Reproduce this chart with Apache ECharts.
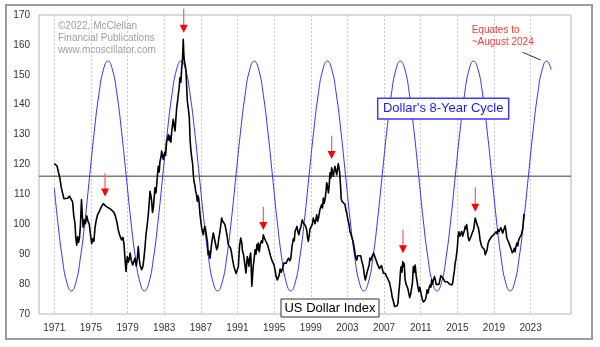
<!DOCTYPE html>
<html><head><meta charset="utf-8">
<script src="https://cdn.jsdelivr.net/npm/echarts@6/dist/echarts.min.js"></script>
<style>html,body{margin:0;padding:0;background:#fff}#c{width:600px;height:347px}</style>
</head><body><div id="c"></div>
<script>
const tickYears = [1971,1975,1979,1983,1987,1991,1995,1999,2003,2007,2011,2015,2019,2023];
const xMin = 1969.33, xMax = 2027.41;
const yMin = 70, yMax = 170, yStep = 10;
const centerLevel = 116.1;

const cycle8 = [[1971.00,112.1],[1971.36,101.4],[1971.86,89.0],[1972.36,80.6],[1972.86,77.7],[1973.36,80.6],[1973.86,89.0],[1974.36,101.4],[1974.86,116.2],[1975.36,130.9],[1975.86,143.3],[1976.36,151.7],[1976.85,154.6],[1977.35,151.7],[1977.85,143.3],[1978.35,130.9],[1978.85,116.2],[1979.35,101.4],[1979.85,89.0],[1980.35,80.6],[1980.84,77.7],[1981.34,80.6],[1981.84,89.0],[1982.34,101.4],[1982.84,116.2],[1983.34,130.9],[1983.84,143.3],[1984.34,151.7],[1984.83,154.6],[1985.33,151.7],[1985.83,143.3],[1986.33,130.9],[1986.83,116.2],[1987.33,101.4],[1987.83,89.0],[1988.33,80.6],[1988.83,77.7],[1989.33,80.6],[1989.83,89.0],[1990.33,101.4],[1990.83,116.2],[1991.33,130.9],[1991.83,143.3],[1992.33,151.7],[1992.82,154.6],[1993.32,151.7],[1993.82,143.3],[1994.32,130.9],[1994.82,116.2],[1995.32,101.4],[1995.82,89.0],[1996.32,80.6],[1996.81,77.7],[1997.31,80.6],[1997.81,89.0],[1998.31,101.4],[1998.81,116.2],[1999.31,130.9],[1999.81,143.3],[2000.31,151.7],[2000.80,154.6],[2001.30,151.7],[2001.80,143.3],[2002.30,130.9],[2002.80,116.2],[2003.30,101.4],[2003.80,89.0],[2004.30,80.6],[2004.79,77.7],[2005.29,80.6],[2005.79,89.0],[2006.29,101.4],[2006.79,116.2],[2007.29,130.9],[2007.79,143.3],[2008.29,151.7],[2008.78,154.6],[2009.28,151.7],[2009.78,143.3],[2010.28,130.9],[2010.78,116.2],[2011.28,101.4],[2011.78,89.0],[2012.28,80.6],[2012.78,77.7],[2013.28,80.6],[2013.78,89.0],[2014.28,101.4],[2014.78,116.2],[2015.28,130.9],[2015.78,143.3],[2016.28,151.7],[2016.77,154.6],[2017.27,151.7],[2017.77,143.3],[2018.27,130.9],[2018.77,116.2],[2019.27,101.4],[2019.77,89.0],[2020.27,80.6],[2020.76,77.7],[2021.26,80.6],[2021.76,89.0],[2022.26,101.4],[2022.76,116.2],[2023.26,130.9],[2023.76,143.3],[2024.26,151.7],[2024.75,154.6],[2025.25,151.7]];

const dollarIndex = [[1971.00,120.3],[1971.15,120.2],[1971.30,119.5],[1971.45,117.5],[1971.60,115.5],[1971.75,112.5],[1971.90,110.5],[1972.05,108.6],[1972.25,108.3],[1972.45,108.7],[1972.65,109.4],[1972.85,110.0],[1973.00,107.5],[1973.12,103.0],[1973.25,100.5],[1973.35,95.5],[1973.45,93.0],[1973.55,95.8],[1973.65,94.0],[1973.75,95.5],[1973.85,99.5],[1973.97,108.3],[1974.05,103.5],[1974.15,99.0],[1974.28,101.5],[1974.40,100.2],[1974.55,102.8],[1974.68,101.0],[1974.82,100.0],[1974.95,96.5],[1975.08,93.5],[1975.20,95.2],[1975.32,94.3],[1975.45,99.0],[1975.57,101.2],[1975.70,103.0],[1975.85,103.6],[1976.00,104.9],[1976.15,105.9],[1976.35,106.9],[1976.50,106.4],[1976.65,106.0],[1976.85,105.5],[1977.05,105.3],[1977.25,104.8],[1977.45,104.2],[1977.63,103.2],[1977.80,101.2],[1977.98,98.2],[1978.15,96.2],[1978.35,94.8],[1978.50,95.6],[1978.62,93.0],[1978.73,88.0],[1978.83,84.2],[1978.90,87.2],[1978.97,89.2],[1979.08,87.3],[1979.18,88.4],[1979.28,90.4],[1979.40,88.0],[1979.56,86.4],[1979.68,87.5],[1979.81,88.7],[1979.95,86.0],[1980.08,89.0],[1980.17,92.6],[1980.27,88.5],[1980.36,86.4],[1980.54,84.8],[1980.68,86.0],[1980.79,88.7],[1980.92,93.0],[1981.01,96.5],[1981.15,100.0],[1981.26,103.2],[1981.37,107.5],[1981.45,111.0],[1981.55,109.5],[1981.63,107.7],[1981.72,104.0],[1981.81,105.5],[1981.92,109.5],[1981.99,112.2],[1982.10,110.5],[1982.18,113.3],[1982.35,119.4],[1982.45,117.5],[1982.54,121.1],[1982.65,122.5],[1982.72,124.5],[1982.82,123.0],[1982.90,121.7],[1983.05,124.0],[1983.15,123.0],[1983.27,127.8],[1983.37,128.5],[1983.45,130.0],[1983.55,128.0],[1983.63,129.5],[1983.73,127.5],[1983.82,131.2],[1983.92,133.5],[1983.99,135.1],[1984.08,133.0],[1984.18,131.2],[1984.28,135.5],[1984.36,139.0],[1984.45,141.0],[1984.54,143.5],[1984.63,145.5],[1984.72,149.1],[1984.82,147.5],[1984.91,152.4],[1985.00,155.5],[1985.08,161.9],[1985.14,157.0],[1985.19,154.7],[1985.28,153.5],[1985.38,151.3],[1985.45,146.0],[1985.52,141.3],[1985.62,139.0],[1985.74,135.7],[1985.83,128.0],[1985.92,124.5],[1986.02,122.0],[1986.11,120.0],[1986.18,116.5],[1986.25,114.4],[1986.35,113.0],[1986.44,111.0],[1986.52,110.0],[1986.61,107.7],[1986.68,109.5],[1986.76,108.8],[1986.84,106.0],[1986.91,103.2],[1987.00,101.0],[1987.09,98.8],[1987.18,97.5],[1987.27,96.5],[1987.36,98.5],[1987.45,99.3],[1987.55,97.5],[1987.63,98.0],[1987.72,94.0],[1987.81,89.8],[1987.90,91.0],[1988.00,88.7],[1988.09,91.0],[1988.18,93.7],[1988.27,95.5],[1988.36,97.1],[1988.48,96.5],[1988.60,93.5],[1988.73,91.5],[1988.85,92.5],[1988.95,95.0],[1989.09,97.6],[1989.27,102.1],[1989.38,101.0],[1989.50,100.5],[1989.62,100.0],[1989.74,98.2],[1989.87,96.0],[1989.99,93.2],[1990.12,93.0],[1990.25,92.0],[1990.37,90.0],[1990.47,88.1],[1990.60,86.0],[1990.72,84.8],[1990.85,83.5],[1990.98,83.1],[1991.10,86.0],[1991.22,92.6],[1991.35,95.4],[1991.46,94.0],[1991.55,91.0],[1991.65,90.0],[1991.74,88.1],[1991.83,86.0],[1991.92,83.7],[1992.00,86.5],[1992.07,89.2],[1992.17,88.0],[1992.25,86.0],[1992.35,89.0],[1992.44,90.4],[1992.50,85.5],[1992.56,79.3],[1992.63,82.0],[1992.72,86.0],[1992.82,88.5],[1992.92,91.5],[1993.02,90.0],[1993.12,93.2],[1993.20,91.5],[1993.27,93.7],[1993.38,90.8],[1993.50,93.5],[1993.62,94.5],[1993.72,93.8],[1993.82,96.5],[1993.92,95.5],[1994.02,96.0],[1994.15,94.0],[1994.30,93.0],[1994.48,90.9],[1994.60,89.5],[1994.74,88.1],[1994.85,88.7],[1994.97,86.5],[1995.10,84.8],[1995.22,82.5],[1995.35,81.4],[1995.45,82.0],[1995.55,83.0],[1995.65,85.0],[1995.78,84.0],[1995.90,85.0],[1996.07,87.0],[1996.20,87.5],[1996.32,87.0],[1996.45,88.0],[1996.58,88.7],[1996.70,87.8],[1996.82,88.5],[1996.95,92.5],[1997.10,95.2],[1997.20,94.5],[1997.28,97.6],[1997.40,98.5],[1997.50,99.3],[1997.60,97.5],[1997.70,96.5],[1997.80,98.0],[1997.93,99.3],[1998.07,101.5],[1998.18,100.5],[1998.30,100.0],[1998.42,99.5],[1998.55,98.2],[1998.65,95.5],[1998.73,94.3],[1998.82,96.0],[1998.92,98.5],[1999.05,99.0],[1999.17,100.0],[1999.27,102.1],[1999.37,101.5],[1999.47,100.2],[1999.57,101.8],[1999.65,103.2],[1999.75,101.0],[1999.87,102.5],[2000.00,104.9],[2000.10,105.5],[2000.19,106.6],[2000.28,105.5],[2000.37,108.8],[2000.47,107.0],[2000.57,108.5],[2000.66,111.0],[2000.74,113.9],[2000.83,112.5],[2000.93,110.5],[2001.02,113.5],[2001.10,117.2],[2001.19,115.5],[2001.28,118.9],[2001.37,117.5],[2001.46,116.1],[2001.55,118.0],[2001.64,119.4],[2001.73,118.0],[2001.83,116.6],[2001.92,118.5],[2002.00,120.2],[2002.08,119.0],[2002.16,117.0],[2002.25,113.0],[2002.32,108.5],[2002.40,107.7],[2002.50,107.2],[2002.60,107.5],[2002.74,106.6],[2002.85,104.5],[2002.95,103.5],[2003.05,101.5],[2003.15,100.4],[2003.28,97.6],[2003.40,96.5],[2003.50,95.9],[2003.60,94.5],[2003.72,92.5],[2003.83,90.4],[2003.93,88.7],[2004.02,88.0],[2004.12,89.5],[2004.22,89.0],[2004.32,90.0],[2004.45,89.5],[2004.58,87.5],[2004.68,86.5],[2004.78,84.8],[2004.88,82.5],[2004.95,81.4],[2005.05,82.5],[2005.15,84.0],[2005.28,84.5],[2005.38,86.5],[2005.46,88.7],[2005.56,88.0],[2005.66,89.0],[2005.76,89.5],[2005.86,90.4],[2005.96,89.5],[2006.08,89.0],[2006.19,87.5],[2006.30,86.5],[2006.40,85.9],[2006.50,85.2],[2006.62,85.5],[2006.72,86.2],[2006.82,85.0],[2006.92,83.7],[2007.05,84.0],[2007.15,83.5],[2007.28,82.5],[2007.40,81.8],[2007.50,81.4],[2007.60,80.5],[2007.70,79.0],[2007.80,77.5],[2007.90,75.5],[2007.98,74.7],[2008.08,73.5],[2008.15,72.5],[2008.22,71.9],[2008.32,73.0],[2008.42,72.8],[2008.52,73.5],[2008.60,76.9],[2008.70,80.0],[2008.80,84.5],[2008.87,85.9],[2008.95,84.0],[2009.05,87.5],[2009.12,86.0],[2009.20,86.8],[2009.30,81.5],[2009.40,80.0],[2009.50,80.5],[2009.60,78.5],[2009.70,77.0],[2009.80,75.5],[2009.90,76.5],[2010.00,78.5],[2010.10,80.5],[2010.20,85.9],[2010.30,84.0],[2010.40,86.4],[2010.50,83.0],[2010.60,81.0],[2010.70,79.0],[2010.80,77.5],[2010.90,79.0],[2011.00,78.5],[2011.10,76.0],[2011.20,74.7],[2011.30,74.0],[2011.40,74.5],[2011.50,74.7],[2011.60,76.0],[2011.70,78.1],[2011.80,77.0],[2011.90,78.5],[2012.02,79.7],[2012.12,79.0],[2012.20,81.4],[2012.30,80.0],[2012.40,81.4],[2012.50,82.5],[2012.60,81.5],[2012.70,79.8],[2012.80,80.0],[2012.90,79.8],[2013.00,80.0],[2013.10,80.5],[2013.20,82.8],[2013.30,83.1],[2013.42,82.0],[2013.55,81.5],[2013.65,80.8],[2013.78,80.5],[2013.90,80.8],[2014.02,80.5],[2014.15,80.0],[2014.28,80.0],[2014.40,79.7],[2014.50,80.5],[2014.58,82.5],[2014.68,84.5],[2014.76,87.0],[2014.86,88.5],[2014.94,90.5],[2015.02,93.0],[2015.10,96.5],[2015.18,97.5],[2015.26,96.0],[2015.36,95.5],[2015.48,97.6],[2015.58,96.0],[2015.68,96.5],[2015.78,98.0],[2015.86,99.3],[2015.94,98.5],[2016.02,99.9],[2016.10,98.0],[2016.20,95.4],[2016.30,94.5],[2016.40,95.0],[2016.50,96.0],[2016.60,96.5],[2016.70,96.0],[2016.80,98.5],[2016.88,100.5],[2016.95,102.1],[2017.02,101.5],[2017.10,100.5],[2017.20,99.5],[2017.30,98.8],[2017.40,97.0],[2017.48,94.8],[2017.58,93.5],[2017.68,92.5],[2017.78,93.0],[2017.86,92.6],[2017.96,91.5],[2018.05,89.8],[2018.15,90.0],[2018.25,91.5],[2018.35,93.5],[2018.45,94.5],[2018.55,95.0],[2018.65,94.8],[2018.75,95.9],[2018.85,96.5],[2018.95,96.3],[2019.05,96.8],[2019.15,97.0],[2019.25,97.5],[2019.35,96.8],[2019.45,98.2],[2019.55,97.5],[2019.65,97.0],[2019.75,98.8],[2019.85,98.0],[2019.95,97.0],[2020.05,98.0],[2020.15,98.8],[2020.22,99.5],[2020.30,98.0],[2020.40,95.4],[2020.50,95.8],[2020.60,94.0],[2020.70,93.2],[2020.80,93.5],[2020.90,91.5],[2021.00,90.5],[2021.08,90.4],[2021.15,91.2],[2021.22,92.0],[2021.30,90.8],[2021.40,92.5],[2021.50,93.7],[2021.60,92.8],[2021.68,94.5],[2021.78,95.4],[2021.88,96.0],[2021.98,96.5],[2022.06,97.1],[2022.14,98.5],[2022.20,100.5],[2022.27,103.5]];

const arrowYears = [1976.54, 1985.13, 1993.82, 2001.28, 2009.07, 2016.96];
const arrowTops  = [117.1, 172.1, 105.9, 129.6, 98.1, 112.4];
const arrowTips  = [109.3, 164.1, 98.1, 121.8, 90.3, 104.2];

const copyrightText = '\u00A92022, McClellan\nFinancial Publications\nwww.mcoscillator.com';
const noteText = 'Equates to\n~August 2024';
const cycleLabel = "Dollar's 8-Year Cycle";
const dollarLabel = 'US Dollar Index';

const FONT = '"Liberation Sans", Arial, sans-serif';
const chart = echarts.init(document.getElementById('c'), null, {renderer: 'canvas'});

chart.setOption({
  animation: false,
  backgroundColor: '#fff',
  textStyle: {fontFamily: FONT},
  grid: {left: 39, right: 29, top: 15, bottom: 33, show: true, borderColor: '#b4b4b4', borderWidth: 1, containLabel: false, outerBoundsMode: 'none'},
  xAxis: {
    type: 'value', min: xMin, max: xMax,
    axisLine: {show: false},
    axisTick: {show: false, customValues: tickYears},
    axisLabel: {customValues: tickYears, formatter: v => String(v), margin: 9, color: '#333', fontSize: 10, fontFamily: FONT},
    splitLine: {show: true, lineStyle: {color: '#c8c8c8', width: 1, type: [2, 2]}}
  },
  yAxis: {
    type: 'value', min: yMin, max: yMax, interval: yStep,
    axisLine: {show: false}, axisTick: {show: false},
    axisLabel: {margin: 9, color: '#333', fontSize: 10, fontFamily: FONT},
    splitLine: {show: false}
  },
  series: [
    {
      type: 'line', name: 'center', data: [[xMin, centerLevel], [xMax, centerLevel]],
      showSymbol: false, silent: true,
      lineStyle: {color: '#3a3a3a', width: 1}
    },
    {
      type: 'line', name: 'cycle', data: cycle8, smooth: 0.5,
      showSymbol: false, silent: true,
      lineStyle: {color: '#3434ff', width: 1}
    },
    {
      type: 'line', name: 'dollar', data: dollarIndex,
      showSymbol: false, silent: true,
      lineStyle: {color: '#000', width: 1.6, join: 'round'}
    },
    {
      type: 'custom', name: 'arrows', clip: false, silent: true,
      data: arrowYears.map((y, i) => [y, arrowTops[i], arrowTips[i]]),
      encode: {x: 0, y: [1, 2]},
      renderItem: (params, api) => {
        const p0 = api.coord([api.value(0), api.value(1)]);
        const p1 = api.coord([api.value(0), api.value(2)]);
        const hw = 4, hh = 8;
        return {type: 'group', children: [
          {type: 'line', shape: {x1: p0[0], y1: p0[1], x2: p1[0], y2: p1[1] - hh + 1}, style: {stroke: '#ff5a5a', lineWidth: 1.2}},
          {type: 'polygon', shape: {points: [[p1[0] - hw, p1[1] - hh], [p1[0] + hw, p1[1] - hh], [p1[0], p1[1]]]}, style: {fill: '#ff0000'}}
        ]};
      },
      z: 5
    }
  ],
  graphic: [
    {type: 'rect', z: 0, shape: {x: 6, y: 5, width: 586, height: 334}, style: {fill: 'none', stroke: '#9c9c9c', lineWidth: 2}},
    {type: 'text', z: 10, x: 58, y: 20, style: {text: copyrightText, font: '10px ' + FONT, fill: '#a0a0a0', lineHeight: 12, align: 'left', verticalAlign: 'top', textAlign: 'left', textVerticalAlign: 'top'}},
    {type: 'text', z: 10, x: 471.7, y: 24.7, style: {text: noteText, font: '10px ' + FONT, fill: '#ff3b3b', lineHeight: 12, align: 'left', verticalAlign: 'top', textAlign: 'left', textVerticalAlign: 'top'}},
    {type: 'line', z: 10, shape: {x1: 522.7, y1: 52.3, x2: 540.7, y2: 60}, style: {stroke: '#333', lineWidth: 1}},
    {type: 'rect', z: 10, shape: {x: 377.7, y: 98.3, width: 131, height: 20.7}, style: {fill: '#fff', stroke: '#3a3aff', lineWidth: 1.5}},
    {type: 'text', z: 11, x: 443.2, y: 108.9, style: {text: cycleLabel, font: '13px ' + FONT, fill: '#1a1aff', align: 'center', verticalAlign: 'middle', textAlign: 'center', textVerticalAlign: 'middle'}},
    {type: 'rect', z: 10, shape: {x: 281, y: 299, width: 98, height: 18}, style: {fill: '#fff', stroke: '#333', lineWidth: 1}},
    {type: 'text', z: 11, x: 330, y: 308.3, style: {text: dollarLabel, font: '13px ' + FONT, fill: '#000', align: 'center', verticalAlign: 'middle', textAlign: 'center', textVerticalAlign: 'middle'}}
  ]
});
</script></body></html>
